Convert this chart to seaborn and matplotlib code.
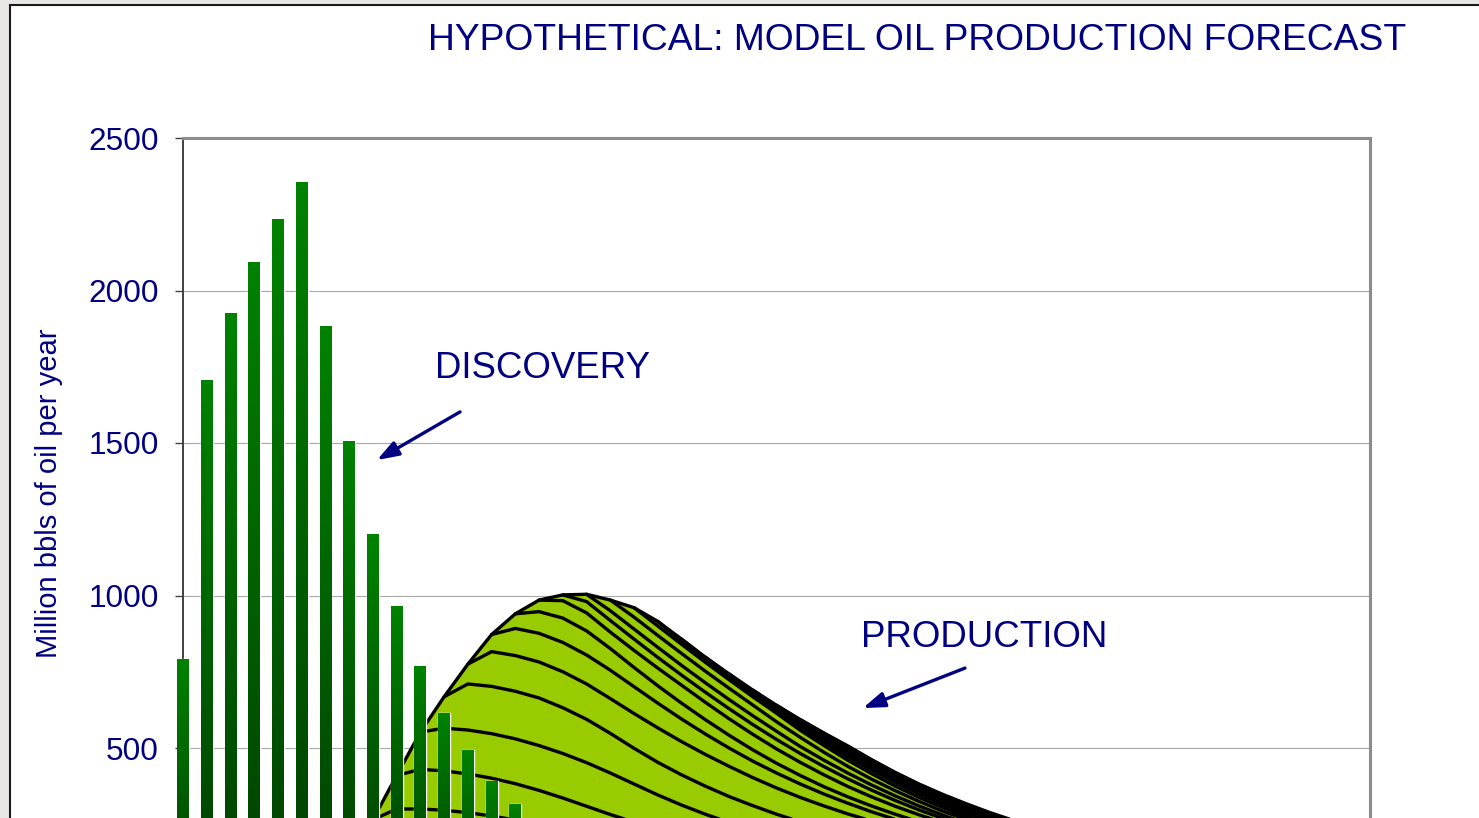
import numpy as np
import pandas as pd
import matplotlib
matplotlib.use("Agg")
import matplotlib.pyplot as plt
from matplotlib.patches import Rectangle
from matplotlib.colors import LinearSegmentedColormap
import seaborn as sns

# yearly discoveries (bars), year 0 = first discovery year
discovery = [793, 1708, 1925, 2095, 2233, 2357, 1885, 1508, 1203, 964,
             770, 616, 492, 393, 315, 250, 200, 160, 128, 102, 82, 65, 52, 42]

# total production (top of the stacked area) for years 8..50
prod_start = 8
production_total = [265, 410, 552, 668, 775, 872, 940, 985, 1002, 1004,
                    985, 960, 915, 857, 798, 743, 690, 640, 593, 549,
                    507, 462, 420, 382, 348, 317, 288, 262, 238, 217,
                    198, 181, 165, 151, 138, 126, 115, 105, 96, 88,
                    80, 73, 67]

# cumulative production lines between the stacked cohorts,
# each one starting in the year the next cohort comes on stream
cohort_08 = [265, 300, 300, 296, 288, 277, 264, 250, 236, 222, 208]
cohort_09 = [410, 430, 425, 415, 401, 383, 361, 336, 309, 282, 257, 234, 213]
cohort_10 = [552, 565, 559, 547, 530, 508, 482, 452, 418, 382, 346, 313, 283,
             256, 232, 211]
cohort_11 = [668, 710, 702, 686, 664, 632, 594, 548, 499, 453, 412, 375, 341,
             311, 283, 258, 235]
cohort_12 = [775, 816, 803, 782, 750, 710, 662, 613, 566, 521, 479, 440, 403,
             369, 338, 310, 284, 261, 240, 221]
cohort_13 = [872, 892, 876, 846, 805, 755, 701, 647, 595, 546, 500, 457, 418,
             382, 349, 319, 291, 266, 243, 222]
cohort_14 = [940, 947, 926, 884, 826, 764, 704, 647, 593, 542, 494, 450, 410,
             373, 340, 310, 283, 258, 236, 216]
cohort_15 = [985, 983, 943, 880, 820, 762, 706, 650, 596, 545, 497, 453, 412,
             374, 340, 309, 281, 256, 233, 213]
cohort_16 = [1002, 980, 918, 857, 797, 739, 683, 629, 577, 528, 482, 439, 399,
             362, 328, 297, 269, 244, 222, 202]
cohort_17 = [1004, 950, 890, 830, 771, 714, 659, 606, 555, 505, 460, 418, 379,
             343, 310, 280, 253, 229, 207]
cohort_18 = [985, 929, 869, 810, 752, 696, 641, 586, 535, 486, 440, 398, 360,
             325, 293, 265, 239, 216]
cohort_19 = [960, 900, 840, 781, 724, 668, 614, 558, 508, 460, 416, 375, 338,
             305, 274, 247, 222]
cohort_20 = [915, 851, 790, 731, 675, 621, 569, 519, 472, 428, 387, 349, 315,
             284, 256, 231]
cohort_21 = [857, 795, 736, 680, 626, 575, 526, 480, 436, 395, 357, 322, 291,
             263, 237]
cohort_22 = [798, 739, 684, 631, 581, 533, 487, 444, 403, 365, 330, 298, 269,
             243]
cohort_23 = [743, 687, 635, 586, 539, 493, 450, 409, 371, 336, 304, 275, 249]
cohort_24 = [690, 638, 590, 544, 499, 455, 414, 376, 341, 309, 280, 254]
cohort_25 = [640, 592, 547, 503, 459, 417, 379, 344, 313, 284, 258]
cohort_26 = [593, 548, 505, 461, 419, 381, 346, 315, 286, 260]

cohort_lines = [(8, cohort_08), (9, cohort_09), (10, cohort_10), (11, cohort_11),
                (12, cohort_12), (13, cohort_13), (14, cohort_14), (15, cohort_15),
                (16, cohort_16), (17, cohort_17), (18, cohort_18), (19, cohort_19),
                (20, cohort_20), (21, cohort_21), (22, cohort_22), (23, cohort_23),
                (24, cohort_24), (25, cohort_25), (26, cohort_26)]

navy = "#000080"
W, H = 1479, 818

sns.set_style("white")
plt.rcParams["font.family"] = ["Liberation Sans", "DejaVu Sans"]

fig = plt.figure(figsize=(W / 100, H / 100), dpi=100)
fig.patch.set_facecolor("#e9e7e3")
panel = Rectangle((10 / W, -0.2), 1.2, 1.2 - 5 / H, transform=fig.transFigure,
                  facecolor="white", edgecolor="#1a1a1a", lw=1.5, zorder=-1)
fig.add_artist(panel)

# axes run past the bottom of the picture, like the cropped slide
ax = fig.add_axes([183 / W, -82.5 / H, 1187 / W, 762.5 / H])

# production: stacked cohorts
prod_years = np.arange(prod_start, prod_start + len(production_total))
ax.fill_between(prod_years, production_total, 0, color="#99cc00", lw=0, zorder=1)
for start, vals in cohort_lines:
    ax.plot(np.arange(start, start + len(vals)), vals, color="black", lw=2.4,
            zorder=2)
ax.plot(prod_years, production_total, color="black", lw=2.4, zorder=2)

# discovery bars
df = pd.DataFrame({"year": np.arange(len(discovery)), "discovery": discovery})
sns.barplot(data=df, x="year", y="discovery", native_scale=True, width=0.5,
            color="#008000", errorbar=None, ax=ax, zorder=3)

grad = LinearSegmentedColormap.from_list("bargrad", ["#003f00", "#008200"])
for bar in list(ax.patches):
    x0, w, h = bar.get_x(), bar.get_width(), bar.get_height()
    im = ax.imshow(np.linspace(0, 1, 256).reshape(-1, 1), extent=[x0, x0 + w, 0, h],
                   origin="lower", cmap=grad, aspect="auto", zorder=3.1)
    im.set_clip_path(bar)

ax.set_xlim(0, 50)
ax.set_ylim(0, 2500)
ax.set_xticks([])
ax.set_yticks(range(500, 2501, 500))
ax.set_xlabel("")
ax.yaxis.grid(True, color="#a8a8a8", lw=0.8)
ax.set_axisbelow(True)
for side in ["top", "right"]:
    ax.spines[side].set_color("#8c8c8c")
    ax.spines[side].set_linewidth(2.2)
ax.spines["left"].set_color("#404040")
ax.spines["left"].set_linewidth(1.4)
ax.spines["bottom"].set_visible(False)
ax.tick_params(axis="y", direction="out", length=5.8, width=1.0, color="#404040",
               pad=11.5, labelsize=22.7, labelcolor=navy, left=True)

ax.set_ylabel("Million bbls of oil per year", fontsize=21, color=navy)
ax.yaxis.set_label_coords(-0.1012, 0.5344)

fig.text(917.5 / W, 1 - 49.5 / H, "HYPOTHETICAL: MODEL OIL PRODUCTION FORECAST",
         ha="center", va="baseline", fontsize=26.8, color=navy)

ax.text(10.63, 1713, "DISCOVERY", fontsize=26.4, color=navy, ha="left",
        va="baseline")
ax.text(28.58, 831, "PRODUCTION", fontsize=26.4, color=navy, ha="left",
        va="baseline")

arrow = dict(arrowstyle="-|>,head_length=1.0,head_width=0.35", color=navy,
             lw=2.4, mutation_scale=13, shrinkA=0, shrinkB=0)
ax.annotate("", xy=(8.17, 1444), xytext=(11.67, 1602), arrowprops=arrow,
            annotation_clip=False)
ax.annotate("", xy=(28.64, 631), xytext=(32.94, 762), arrowprops=arrow,
            annotation_clip=False)

fig.savefig("out.png", dpi=100, facecolor=fig.get_facecolor())
